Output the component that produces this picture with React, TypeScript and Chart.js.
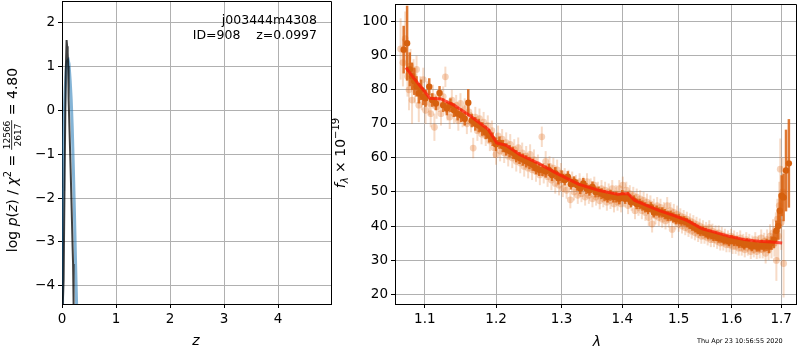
import React, { useEffect, useRef } from "react";
import { Chart, registerables } from "chart.js";
Chart.register(...registerables);

// ---------- data ----------
const zTicks = [0, 1, 2, 3, 4];
const logpTicks = [-4, -3, -2, -1, 0, 1, 2];
const lamTicks = [1.1, 1.2, 1.3, 1.4, 1.5, 1.6, 1.7];
const fluxTicks = [20, 30, 40, 50, 60, 70, 80, 90, 100];

const zBlack = [0, 0.012, 0.03, 0.05, 0.07, 0.085, 0.095, 0.105, 0.115, 0.12, 0.125, 0.14, 0.16, 0.18, 0.196, 0.205, 0.215, 0.23];
const logpBlack = [-9, -4.5, -3.86, -1.3, 0.9, 1.59, 1.45, 1.3, 1.0, 0.5, 0.25, -0.5, -1.36, -2.3, -3.1, -3.5, -4.45, -6];

const zBlue = [0, 0.01, 0.02, 0.03, 0.045, 0.06, 0.08, 0.1, 0.115, 0.13, 0.15, 0.17, 0.19, 0.21, 0.23, 0.25, 0.27, 0.29];
const logpBlue = [-4.6, -3.0, -1.8, -0.8, 0.0, 0.5, 0.95, 1.12, 1.14, 1.05, 0.7, 0.25, -0.4, -1.3, -2.3, -3.4, -4.4, -5.6];

const modelLam = [1.075, 1.085, 1.098, 1.107, 1.122, 1.14, 1.161, 1.189, 1.201, 1.215, 1.235, 1.263, 1.291, 1.327, 1.36, 1.392, 1.401, 1.41, 1.421, 1.44, 1.465, 1.493, 1.516, 1.544, 1.567, 1.597, 1.626, 1.655, 1.68, 1.702];
const modelFlux = [86.5, 83.5, 80, 77.5, 77.3, 75.5, 72.6, 68.3, 64.4, 63.7, 61.0, 58.5, 55.6, 52.3, 50.5, 49.3, 49.5, 49.5, 47.6, 46.2, 44.5, 43.0, 41.6, 39.2, 38.2, 36.9, 36.0, 35.5, 35.3, 35.0];

// individual exposures: [lambda, flux, error]
const lightPoints = [
  [1.068, 92, 9], [1.071, 88, 7], [1.074, 95, 8], [1.077, 84, 6], [1.079, 80, 6], [1.081, 87, 5], [1.083, 77, 7], [1.085, 84, 5], [1.087, 81, 5], [1.089, 86, 4],
  [1.092, 75.5, 5], [1.094, 80, 4], [1.096, 78, 4], [1.098, 83, 3.5], [1.101, 74, 4], [1.103, 79, 3.5], [1.106, 76, 3.5], [1.108, 73, 4], [1.111, 78, 3.5], [1.113, 69, 4],
  [1.116, 75, 3.5], [1.119, 76.5, 3], [1.122, 73, 3.5], [1.125, 78, 3], [1.128, 83.8, 3], [1.131, 74, 3], [1.134, 72, 3.5], [1.137, 77, 3], [1.14, 73, 3], [1.143, 75.5, 3],
  [1.146, 71, 3], [1.149, 76, 3], [1.152, 72, 3], [1.155, 74.5, 3], [1.158, 70, 3], [1.161, 73.5, 3], [1.164, 70.5, 3], [1.167, 62.9, 3], [1.17, 72, 3], [1.173, 68, 3],
  [1.176, 71.5, 3], [1.179, 67, 3], [1.182, 70.5, 3], [1.185, 66.5, 3], [1.188, 69.5, 3], [1.191, 65, 3], [1.194, 68, 3], [1.197, 63, 3], [1.2, 61, 3], [1.203, 66.5, 3],
  [1.206, 62, 3], [1.209, 65.5, 3], [1.212, 61.5, 3], [1.215, 64.5, 3], [1.218, 60.5, 3], [1.221, 64, 3], [1.224, 60, 3], [1.227, 62.5, 3], [1.23, 59, 3], [1.233, 63, 3],
  [1.236, 58.5, 3], [1.239, 61.5, 3], [1.242, 57.5, 3], [1.245, 60.5, 3], [1.248, 57, 3], [1.251, 61, 3], [1.254, 56.5, 3], [1.257, 59.5, 3], [1.26, 56, 3], [1.263, 58, 3],
  [1.266, 55, 3], [1.269, 66.2, 3], [1.272, 55.5, 3], [1.275, 59, 3], [1.278, 54.5, 3], [1.281, 57.5, 3], [1.284, 53.5, 3], [1.287, 57, 3], [1.29, 52.5, 3], [1.293, 56.5, 3],
  [1.296, 52, 3], [1.299, 55.5, 3], [1.302, 51, 2.5], [1.305, 54.5, 2.5], [1.308, 50.5, 2.5], [1.311, 54, 2.5], [1.314, 47.7, 2.5], [1.317, 53.5, 2.5], [1.32, 50, 2.5], [1.323, 52.5, 2.5],
  [1.326, 49, 2.5], [1.329, 53, 2.5], [1.332, 49.5, 2.5], [1.335, 52, 2.5], [1.338, 48.5, 2.5], [1.341, 53, 2.5], [1.344, 49, 2.5], [1.347, 51.5, 2.5], [1.35, 48, 2.5], [1.353, 52, 2.5],
  [1.356, 48.5, 2.5], [1.359, 50.5, 2.5], [1.362, 47.4, 2.5], [1.365, 51, 2.5], [1.368, 48, 2.5], [1.371, 50.5, 2.5], [1.374, 47, 2.5], [1.377, 50, 2.5], [1.38, 47.5, 2.5], [1.383, 51, 2.5],
  [1.386, 46.5, 2.5], [1.389, 49.5, 2.5], [1.392, 47, 2.5], [1.395, 51, 2.5], [1.398, 46.5, 2.5], [1.401, 52, 2.5], [1.404, 48, 2.5], [1.407, 50.5, 2.5], [1.41, 46, 2.5], [1.413, 49.5, 2.5],
  [1.416, 47, 2.5], [1.419, 49, 2.5], [1.422, 44.5, 2.5], [1.425, 48.5, 2.5], [1.428, 45.5, 2.5], [1.431, 48, 2.5], [1.434, 44.5, 2.5], [1.437, 47.5, 2.5], [1.44, 44, 2.5], [1.443, 47, 2.5],
  [1.446, 42.5, 2.5], [1.449, 46.5, 2.5], [1.452, 40.6, 2.5], [1.455, 45.5, 2.5], [1.458, 43, 2.5], [1.461, 46, 2.5], [1.464, 42.5, 2.5], [1.467, 45.5, 2.5], [1.47, 42, 2.5], [1.473, 44.5, 2.5],
  [1.476, 41.5, 2.5], [1.479, 46, 2.5], [1.482, 42, 2.5], [1.485, 44.5, 2.5], [1.488, 39, 2.5], [1.491, 44, 2.5], [1.494, 41.5, 2.5], [1.497, 43.5, 2.5], [1.5, 40.5, 2.2], [1.503, 43, 2.2],
  [1.506, 40, 2.2], [1.509, 42.5, 2.2], [1.512, 39.5, 2.2], [1.515, 42, 2.2], [1.518, 39, 2.2], [1.521, 41.5, 2.2], [1.524, 38.5, 2.2], [1.527, 41, 2.2], [1.53, 38, 2.2], [1.533, 40.5, 2.2],
  [1.536, 37.5, 2.2], [1.539, 40, 2.2], [1.542, 37, 2.2], [1.545, 39.5, 2.2], [1.548, 37, 2.2], [1.551, 39, 2.2], [1.554, 36.5, 2.2], [1.557, 39.5, 2.2], [1.56, 36, 2.2], [1.563, 38.5, 2.2],
  [1.566, 36, 2.2], [1.569, 38, 2.2], [1.572, 35.5, 2.2], [1.575, 38, 2.2], [1.578, 35, 2.2], [1.581, 37.5, 2.2], [1.584, 35, 2.2], [1.587, 37, 2.2], [1.59, 34.5, 2.2], [1.593, 36.5, 2.2],
  [1.596, 34.5, 2.2], [1.599, 37, 2.2], [1.602, 34, 2.2], [1.605, 36.5, 2.2], [1.608, 34, 2.2], [1.611, 36, 2.2], [1.614, 33.5, 2.2], [1.617, 36.5, 2.2], [1.62, 33.5, 2.2], [1.623, 35.5, 2.2],
  [1.626, 33, 2.2], [1.629, 36, 2.2], [1.632, 33.5, 2.2], [1.635, 35.5, 2.2], [1.638, 32.5, 2.2], [1.641, 35, 2.2], [1.644, 33, 2.2], [1.647, 36, 2.2], [1.65, 32.5, 2.2], [1.653, 35, 2.2],
  [1.656, 33, 2.5], [1.659, 36.5, 2.5], [1.662, 33, 2.5], [1.665, 35.5, 2.5], [1.668, 32, 3], [1.671, 36, 3], [1.674, 33, 3], [1.677, 37, 3.5], [1.68, 34, 3.5], [1.683, 38, 4],
  [1.686, 35, 4], [1.689, 39, 5], [1.69, 29.9, 6], [1.692, 42, 6], [1.694, 37, 7], [1.696, 46, 7], [1.698, 56.7, 9], [1.7, 41, 8], [1.703, 50, 10], [1.705, 29, 10],
];

// combined / binned spectrum: [lambda, flux, error]
const darkPoints = [
  [1.072, 91.8, 7], [1.0765, 93.7, 11], [1.08, 86, 5], [1.083, 84, 4], [1.086, 82.5, 4], [1.089, 81, 3], [1.092, 79, 3], [1.095, 80, 3], [1.098, 78, 2.5], [1.101, 77.5, 2.5],
  [1.106, 80.9, 2.5], [1.11, 77, 2], [1.115, 76, 2], [1.12, 79.1, 2], [1.125, 75.5, 2], [1.13, 74.5, 2], [1.135, 75.5, 2], [1.14, 74, 2], [1.145, 73, 2], [1.15, 72.5, 2],
  [1.155, 71.5, 2], [1.16, 76.2, 4], [1.165, 71, 2], [1.17, 70, 2], [1.175, 69.5, 2], [1.18, 68.5, 2], [1.185, 67.5, 2], [1.19, 66.5, 2], [1.195, 65.5, 2], [1.2, 64, 2],
  [1.205, 64.5, 1.8], [1.21, 63.5, 1.8], [1.215, 62.5, 1.8], [1.22, 62, 1.8], [1.225, 61.5, 1.8], [1.23, 60.5, 1.8], [1.235, 60, 1.8], [1.24, 59.5, 1.8], [1.245, 59, 1.8], [1.25, 58.5, 1.8],
  [1.255, 58, 1.8], [1.26, 57, 1.8], [1.265, 56.5, 1.8], [1.27, 56.5, 1.8], [1.275, 56, 1.8], [1.28, 56.5, 1.8], [1.285, 55, 1.8], [1.29, 55.5, 1.8], [1.295, 54, 1.8], [1.3, 54.5, 1.8],
  [1.305, 53.5, 1.6], [1.31, 54.5, 1.6], [1.315, 52.3, 1.6], [1.32, 53, 1.6], [1.325, 52, 1.6], [1.33, 51, 1.6], [1.335, 52.5, 1.6], [1.34, 51, 1.6], [1.345, 50.5, 1.6], [1.35, 51.5, 1.6],
  [1.355, 50, 1.6], [1.36, 50, 1.6], [1.365, 49.5, 1.6], [1.37, 49, 1.6], [1.375, 48.5, 1.6], [1.38, 49, 1.6], [1.385, 48.5, 1.6], [1.39, 48.5, 1.6], [1.395, 48, 1.6], [1.4, 49, 1.6],
  [1.405, 48, 1.5], [1.41, 48.5, 1.5], [1.415, 47, 1.5], [1.42, 47.5, 1.5], [1.425, 46.5, 1.5], [1.43, 46.5, 1.5], [1.435, 46, 1.5], [1.44, 45.5, 1.5], [1.445, 45, 1.5], [1.45, 45.5, 1.5],
  [1.455, 44, 1.5], [1.46, 44.5, 1.5], [1.465, 44, 1.5], [1.47, 44, 1.5], [1.475, 43.5, 1.5], [1.48, 43, 1.5], [1.485, 43, 1.5], [1.49, 42.5, 1.5], [1.495, 42, 1.5], [1.5, 42, 1.5],
  [1.505, 41.5, 1.4], [1.51, 41.5, 1.4], [1.515, 41, 1.4], [1.52, 40.5, 1.4], [1.525, 40, 1.4], [1.53, 39.5, 1.4], [1.535, 39, 1.4], [1.54, 38.5, 1.4], [1.545, 38.5, 1.4], [1.55, 38, 1.4],
  [1.555, 37.5, 1.4], [1.56, 37.5, 1.4], [1.565, 37, 1.4], [1.57, 37, 1.4], [1.575, 36.5, 1.4], [1.58, 36.5, 1.4], [1.585, 36, 1.4], [1.59, 36, 1.4], [1.595, 35.5, 1.4], [1.6, 36, 1.4],
  [1.605, 35.5, 1.4], [1.61, 35.5, 1.4], [1.615, 35, 1.4], [1.62, 35, 1.4], [1.625, 34.5, 1.4], [1.63, 35, 1.4], [1.635, 34.5, 1.4], [1.64, 34, 1.4], [1.645, 34.5, 1.4], [1.65, 34, 1.5],
  [1.655, 34, 1.5], [1.66, 34.5, 1.5], [1.665, 34, 1.5], [1.67, 34.5, 1.8], [1.675, 34, 2], [1.68, 35, 2], [1.685, 36, 2.5], [1.69, 38.6, 3], [1.694, 40, 4], [1.697, 44.5, 5],
  [1.701, 48.9, 6], [1.705, 48.4, 7], [1.71, 56.3, 12], [1.716, 58.4, 13],
];

const objName = "j003444m4308";
const idText = "ID=908    z=0.0997";
const chi2Num = "12566";
const chi2Den = "2617";
const chi2Text = " = 4.80";
const stamp = "Thu Apr 23 10:56:55 2020";

// ---------- helpers ----------
const FONT = "'DejaVu Sans', sans-serif";
const RIGHT_OFF = 325; // page x of right canvas
const fmtMinus = (v: number) => (v < 0 ? "\u2212" + Math.abs(v) : String(v));

// top and right spines (Chart.js draws the left and bottom borders)
const framePlugin = {
  id: "frame",
  afterDraw(chart: any) {
    const { ctx, chartArea: a } = chart;
    ctx.save();
    ctx.strokeStyle = "#000";
    ctx.lineWidth = 1;
    const l = Math.round(a.left) + 0.5, t = Math.round(a.top) + 0.5;
    const r = Math.round(a.right) + 0.5, b = Math.round(a.bottom) + 0.5;
    ctx.beginPath();
    ctx.moveTo(l, t);
    ctx.lineTo(r, t);
    ctx.lineTo(r, b);
    ctx.stroke();
    ctx.restore();
  },
};

const errorBarPlugin = {
  id: "errbars",
  beforeDatasetDraw(chart: any, args: any) {
    const ds = chart.data.datasets[args.index];
    if (!ds.errs) return;
    const { ctx, chartArea: a } = chart;
    const xs = chart.scales.x, ys = chart.scales.y;
    ctx.save();
    ctx.beginPath();
    ctx.rect(a.left, a.top, a.right - a.left, a.bottom - a.top);
    ctx.clip();
    ctx.strokeStyle = ds.errColor;
    ctx.lineWidth = ds.errWidth;
    ds.data.forEach((p: any, i: number) => {
      const e = ds.errs[i];
      const x = xs.getPixelForValue(p.x);
      ctx.beginPath();
      ctx.moveTo(x, ys.getPixelForValue(p.y - e));
      ctx.lineTo(x, ys.getPixelForValue(p.y + e));
      ctx.stroke();
    });
    ctx.restore();
  },
};

type Part = { t?: string; f?: string; dy?: number; frac?: [string, string] };

function drawParts(ctx: CanvasRenderingContext2D, parts: Part[], fracFont: string) {
  const widths = parts.map((p) => {
    if (p.frac) {
      ctx.font = fracFont;
      return Math.max(ctx.measureText(p.frac[0]).width, ctx.measureText(p.frac[1]).width) + 2;
    }
    ctx.font = p.f as string;
    return ctx.measureText(p.t as string).width;
  });
  const total = widths.reduce((s, w) => s + w, 0);
  let x = -total / 2;
  ctx.textBaseline = "alphabetic";
  parts.forEach((p, i) => {
    const w = widths[i];
    if (p.frac) {
      ctx.font = fracFont;
      ctx.textAlign = "center";
      ctx.fillText(p.frac[0], x + w / 2, -7);
      ctx.fillText(p.frac[1], x + w / 2, 3.6);
      ctx.fillRect(x + 0.5, -5.7, w - 1, 0.8);
      ctx.textAlign = "left";
    } else {
      ctx.font = p.f as string;
      ctx.textAlign = "left";
      ctx.fillText(p.t as string, x, p.dy || 0);
    }
    x += w;
  });
}

const leftTextPlugin = {
  id: "leftText",
  afterDraw(chart: any) {
    const ctx = chart.ctx as CanvasRenderingContext2D;
    ctx.save();
    ctx.fillStyle = "#000";
    ctx.font = `12.5px ${FONT}`;
    ctx.textAlign = "right";
    ctx.textBaseline = "alphabetic";
    ctx.fillText(objName, 317, 24);
    ctx.fillText(idText, 317, 39);
    ctx.font = `italic 14px ${FONT}`;
    ctx.textAlign = "center";
    ctx.fillText("z", 196, 345);
    ctx.save();
    ctx.translate(17, 160);
    ctx.rotate(-Math.PI / 2);
    const big = `14px ${FONT}`;
    const it = `italic 14px ${FONT}`;
    drawParts(
      ctx,
      [
        { t: "log ", f: big },
        { t: "p", f: it },
        { t: "(", f: big },
        { t: "z", f: it },
        { t: ") / ", f: big },
        { t: "\u03c7", f: it },
        { t: "2", f: `10px ${FONT}`, dy: -6 },
        { t: " = ", f: big },
        { frac: [chi2Num, chi2Den] },
        { t: chi2Text, f: big },
      ],
      `9px ${FONT}`
    );
    ctx.restore();
    ctx.restore();
  },
};

const rightTextPlugin = {
  id: "rightText",
  afterDraw(chart: any) {
    const ctx = chart.ctx as CanvasRenderingContext2D;
    ctx.save();
    ctx.fillStyle = "#000";
    ctx.font = `italic 14px ${FONT}`;
    ctx.textAlign = "center";
    ctx.textBaseline = "alphabetic";
    ctx.fillText("\u03bb", 597 - RIGHT_OFF, 346);
    ctx.font = `6.5px ${FONT}`;
    ctx.textAlign = "left";
    ctx.fillText(stamp, 697 - RIGHT_OFF, 343);
    ctx.save();
    ctx.translate(345 - RIGHT_OFF, 153);
    ctx.rotate(-Math.PI / 2);
    drawParts(
      ctx,
      [
        { t: "f", f: `italic 14px ${FONT}` },
        { t: "\u03bb", f: `italic 10px ${FONT}`, dy: 3 },
        { t: " \u00d7 10", f: `14px ${FONT}` },
        { t: "\u221219", f: `10px ${FONT}`, dy: -6 },
      ],
      `9px ${FONT}`
    );
    ctx.restore();
    ctx.restore();
  },
};

const noPad = (s: any) => {
  s.paddingTop = 0;
  s.paddingBottom = 0;
  s.paddingLeft = 0;
  s.paddingRight = 0;
};

const axisCommon = (ticks: number[], fmt: (v: number) => string) => ({
  bounds: "data" as const,
  afterBuildTicks: (s: any) => {
    s.ticks = ticks.map((v) => ({ value: v }));
  },
  grid: { color: "#b0b0b0", lineWidth: 1, tickColor: "#000", tickLength: 4, drawTicks: true },
  border: { color: "#000", width: 1 },
  ticks: {
    color: "#000",
    font: { family: "'DejaVu Sans', sans-serif", size: 13.5 },
    padding: 3,
    autoSkip: false,
    maxRotation: 0,
    callback: (v: any) => fmt(Number(v)),
  },
});

export default function App() {
  const leftRef = useRef<HTMLCanvasElement>(null);
  const rightRef = useRef<HTMLCanvasElement>(null);

  useEffect(() => {
    const left = new Chart(leftRef.current as HTMLCanvasElement, {
      type: "scatter",
      data: {
        datasets: [
          {
            data: zBlack.map((z, i) => ({ x: z, y: logpBlack[i] })),
            showLine: true,
            borderColor: "rgba(0,0,0,0.75)",
            borderWidth: 2,
            pointRadius: 0,
            order: 1,
          } as any,
          {
            data: zBlue.map((z, i) => ({ x: z, y: logpBlue[i] })),
            showLine: true,
            borderColor: "rgba(31,119,180,0.55)",
            borderWidth: 3,
            pointRadius: 0,
            order: 2,
          } as any,
        ],
      },
      options: {
        animation: false,
        responsive: false,
        devicePixelRatio: 1,
        layout: { padding: { left: 0, right: 9, top: 1, bottom: 0 } },
        plugins: { legend: { display: false }, tooltip: { enabled: false } },
        scales: {
          x: {
            type: "linear",
            min: 0,
            max: 4.98,
            ...axisCommon(zTicks, fmtMinus),
            afterFit: (s: any) => {
              s.height = 46;
              noPad(s);
            },
          } as any,
          y: {
            type: "linear",
            min: -4.41,
            max: 2.48,
            ...axisCommon(logpTicks, fmtMinus),
            afterFit: (s: any) => {
              s.width = 62;
              noPad(s);
            },
          } as any,
        },
      },
      plugins: [framePlugin, leftTextPlugin],
    });

    const right = new Chart(rightRef.current as HTMLCanvasElement, {
      type: "scatter",
      data: {
        datasets: [
          {
            data: modelLam.map((l, i) => ({ x: l, y: modelFlux[i] })),
            showLine: true,
            borderColor: "rgba(255,25,10,0.72)",
            borderWidth: 3,
            pointRadius: 0,
            order: 1,
          } as any,
          {
            data: darkPoints.map((p) => ({ x: p[0], y: p[1] })),
            errs: darkPoints.map((p) => p[2]),
            errColor: "rgba(217,96,14,0.85)",
            errWidth: 2.5,
            pointRadius: 3.2,
            pointBorderWidth: 0,
            pointBackgroundColor: "rgb(214,96,14)",
            order: 2,
          } as any,
          {
            data: lightPoints.map((p) => ({ x: p[0], y: p[1] })),
            errs: lightPoints.map((p) => p[2]),
            errColor: "rgba(225,110,30,0.25)",
            errWidth: 2,
            pointRadius: 3.4,
            pointBorderWidth: 0,
            pointBackgroundColor: "rgba(225,110,30,0.3)",
            order: 3,
          } as any,
        ],
      },
      options: {
        animation: false,
        responsive: false,
        devicePixelRatio: 1,
        layout: { padding: { left: 0, right: 1, top: 1, bottom: 0 } },
        plugins: { legend: { display: false }, tooltip: { enabled: false } },
        scales: {
          x: {
            type: "logarithmic",
            min: 1.0607,
            max: 1.731,
            ...axisCommon(lamTicks, (v) => v.toFixed(1)),
            afterFit: (s: any) => {
              s.height = 46;
              noPad(s);
            },
          } as any,
          y: {
            type: "linear",
            min: 17.1,
            max: 105.2,
            ...axisCommon(fluxTicks, (v) => String(v)),
            afterFit: (s: any) => {
              s.width = 395 - RIGHT_OFF;
              noPad(s);
            },
          } as any,
        },
      },
      plugins: [framePlugin, errorBarPlugin, rightTextPlugin],
    });

    return () => {
      left.destroy();
      right.destroy();
    };
  }, []);

  return (
    <div style={{ position: "absolute", left: 0, top: 0, width: 800, height: 350, background: "#fff" }}>
      <canvas ref={leftRef} width={340} height={350} style={{ position: "absolute", left: 0, top: 0, width: 340, height: 350 }} />
      <canvas
        ref={rightRef}
        width={800 - RIGHT_OFF}
        height={350}
        style={{ position: "absolute", left: RIGHT_OFF, top: 0, width: 800 - RIGHT_OFF, height: 350 }}
      />
    </div>
  );
}
